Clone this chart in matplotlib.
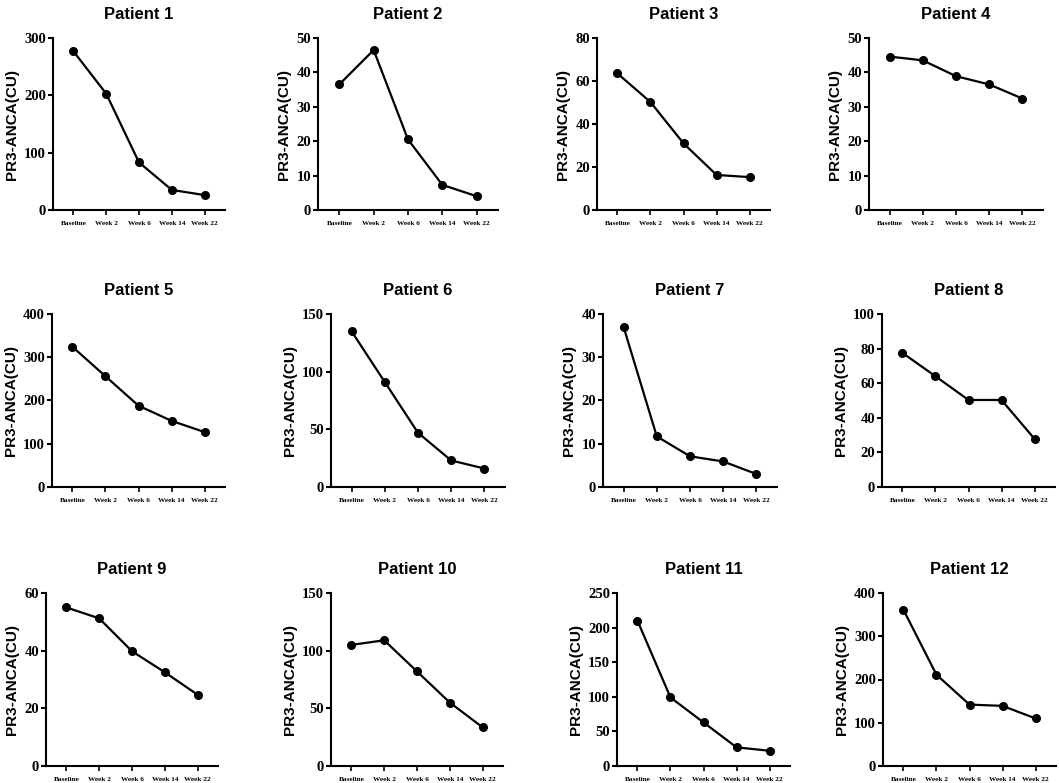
import matplotlib
matplotlib.use("Agg")
import matplotlib.pyplot as plt

timepoints = ["Baseline", "Week 2", "Week 6", "Week 14", "Week 22"]
patients = ["Patient 1", "Patient 2", "Patient 3", "Patient 4",
            "Patient 5", "Patient 6", "Patient 7", "Patient 8",
            "Patient 9", "Patient 10", "Patient 11", "Patient 12"]

p1 = [277, 203, 83, 35, 26]
p2 = [36.5, 46.5, 20.5, 7.3, 4.0]
p3 = [63.5, 50.2, 31, 16.3, 15.3]
p4 = [44.6, 43.5, 38.9, 36.5, 32.4]
p5 = [324, 256, 188, 153, 127]
p6 = [135, 91, 47, 23, 16]
p7 = [37, 11.7, 7.1, 5.9, 3.0]
p8 = [77.5, 64, 50.3, 50.3, 27.8]
p9 = [55, 51.2, 39.8, 32.5, 24.7]
p10 = [105, 109, 82, 55, 33.5]
p11 = [210, 99, 63, 27, 22]
p12 = [361, 211, 142, 139, 110]
values = [p1, p2, p3, p4, p5, p6, p7, p8, p9, p10, p11, p12]

ymax = [300, 50, 80, 50, 400, 150, 40, 100, 60, 150, 250, 400]
ystep = [100, 10, 20, 10, 100, 50, 10, 20, 20, 50, 50, 100]

ylabel = "PR3-ANCA(CU)"

W, H = 1059, 783
# axes boxes in pixels: left, right, top, bottom
boxes = [
    (53, 225, 38, 210), (318, 498, 38, 210), (597, 770, 38, 210), (869, 1043, 38, 210),
    (52, 225, 314, 487), (331, 505, 314, 487), (603, 777, 314, 487), (882, 1055, 314, 487),
    (46, 218, 593, 766), (331, 503, 593, 766), (617, 790, 593, 766), (883, 1056, 593, 766),
]

fig = plt.figure(figsize=(W / 100, H / 100), dpi=100)
fig.patch.set_facecolor("white")

sans = ["Liberation Sans", "Arial", "DejaVu Sans"]
serif = ["Liberation Serif", "Times New Roman", "DejaVu Serif"]

for i, (name, vals) in enumerate(zip(patients, values)):
    l, r, t, b = boxes[i]
    ax = fig.add_axes([l / W, 1 - b / H, (r - l) / W, (b - t) / H])
    x = list(range(len(timepoints)))
    ax.plot(x, vals, color="black", lw=1.6, marker="o", ms=5.5, clip_on=False, zorder=3)
    ax.set_xlim(-0.62, 4.62)
    ax.set_ylim(0, ymax[i])
    ticks = list(range(0, ymax[i] + 1, ystep[i]))
    ax.set_yticks(ticks)
    ax.set_yticklabels([str(v) for v in ticks], family=serif, fontweight="bold", fontsize=10.5)
    ax.set_xticks(x)
    ax.set_xticklabels(timepoints, family=serif, fontweight="bold", fontsize=5.2)
    for s in ["top", "right"]:
        ax.spines[s].set_visible(False)
    for s in ["left", "bottom"]:
        ax.spines[s].set_linewidth(1.5)
    ax.tick_params(axis="y", length=3.5, width=1.5, pad=1.5)
    ax.tick_params(axis="x", length=3.5, width=1.2, pad=4.5)
    ax.set_ylabel(ylabel, family=sans, fontweight="bold", fontsize=11, labelpad=4)
    ax.set_title(name, family=sans, fontweight="bold", fontsize=12, pad=14)

fig.savefig("out.png", dpi=100, facecolor="white")
